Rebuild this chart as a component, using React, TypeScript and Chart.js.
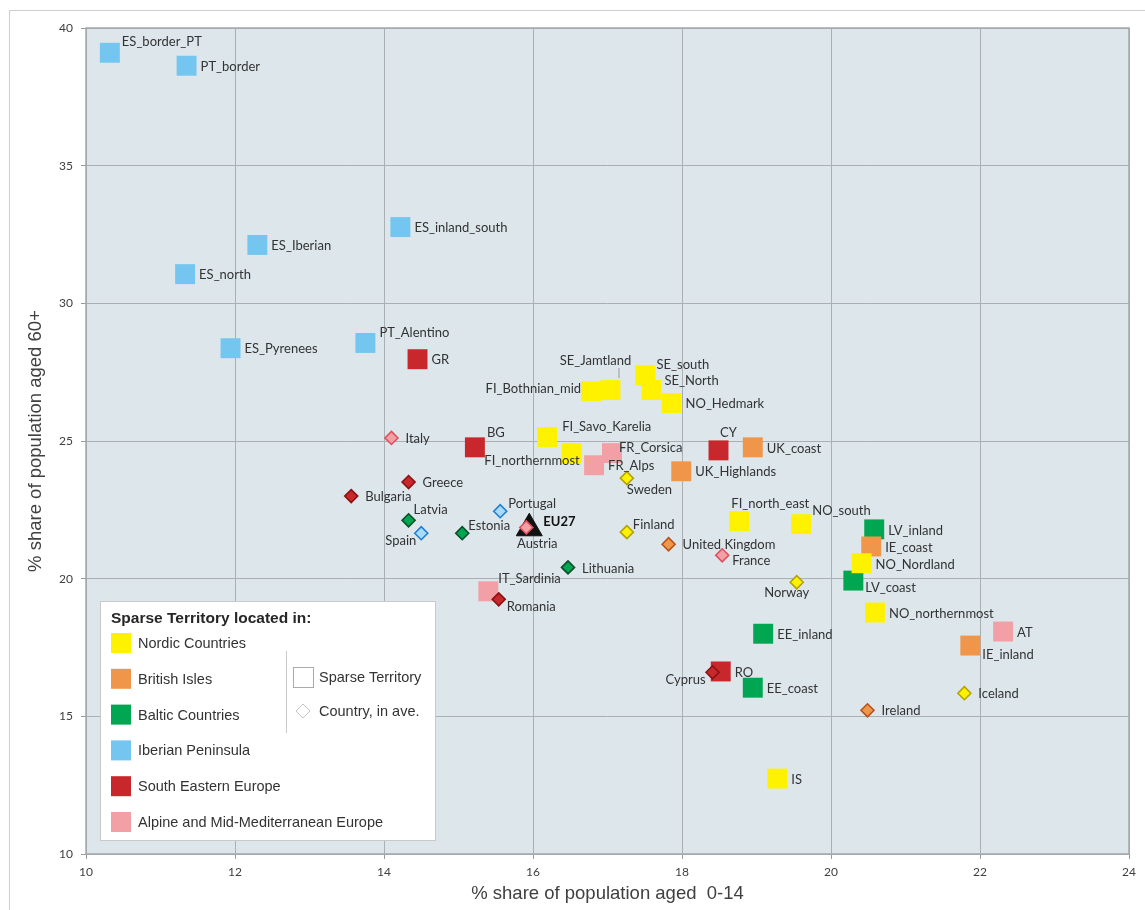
import { useEffect, useRef } from "react";
import { Chart, registerables } from "chart.js";

Chart.register(...registerables);

// ---------- Sparse territories (squares) ----------
const nordicNames = ["FI_Bothnian_mid", "SE_Jamtland", "SE_south", "SE_North", "NO_Hedmark", "FI_Savo_Karelia", "FI_northernmost", "FI_north_east", "NO_south", "NO_Nordland", "NO_northernmost", "IS"];
const nordicX = [16.78, 17.04, 17.51, 17.59, 17.86, 16.19, 16.52, 18.77, 19.6, 20.41, 20.59, 19.28];
const nordicY = [26.81, 26.85, 27.39, 26.85, 26.38, 25.14, 24.56, 22.09, 21.98, 20.56, 18.77, 12.74];

const britishNames = ["UK_coast", "UK_Highlands", "IE_coast", "IE_inland"];
const britishX = [18.95, 17.99, 20.54, 21.87];
const britishY = [24.77, 23.9, 21.17, 17.57];

const balticNames = ["LV_inland", "LV_coast", "EE_inland", "EE_coast"];
const balticX = [20.58, 20.3, 19.09, 18.95];
const balticY = [21.79, 19.93, 18.0, 16.04];

const iberianNames = ["ES_border_PT", "PT_border", "ES_Iberian", "ES_north", "ES_inland_south", "ES_Pyrenees", "PT_Alentino"];
const iberianX = [10.32, 11.35, 12.3, 11.33, 14.22, 11.94, 13.75];
const iberianY = [39.1, 38.63, 32.12, 31.06, 32.77, 28.37, 28.56];

const seNames = ["GR", "BG", "CY", "RO"];
const seX = [14.45, 15.22, 18.49, 18.52];
const seY = [27.97, 24.77, 24.66, 16.63];

const alpineNames = ["FR_Corsica", "FR_Alps", "IT_Sardinia", "AT"];
const alpineX = [17.06, 16.82, 15.4, 22.31];
const alpineY = [24.56, 24.12, 19.54, 18.08];

// ---------- Countries, in average (diamonds) ----------
const nordicCountries = ["Sweden", "Finland", "Norway", "Iceland"];
const nordicCountryX = [17.26, 17.26, 19.54, 21.79];
const nordicCountryY = [23.65, 21.69, 19.87, 15.84];

const britishCountries = ["United Kingdom", "Ireland"];
const britishCountryX = [17.82, 20.49];
const britishCountryY = [21.25, 15.22];

const balticCountries = ["Latvia", "Estonia", "Lithuania"];
const balticCountryX = [14.33, 15.05, 16.47];
const balticCountryY = [22.12, 21.65, 20.41];

const iberianCountries = ["Spain", "Portugal"];
const iberianCountryX = [14.5, 15.56];
const iberianCountryY = [21.65, 22.45];

const seCountries = ["Greece", "Bulgaria", "Romania", "Cyprus"];
const seCountryX = [14.33, 13.56, 15.54, 18.41];
const seCountryY = [23.51, 23.0, 19.25, 16.6];

const alpineCountries = ["Italy", "Austria", "France"];
const alpineCountryX = [14.1, 15.91, 18.54];
const alpineCountryY = [25.11, 21.86, 20.85];

const eu27Names = ["EU27"];
const eu27X = [15.95];
const eu27Y = [21.83];

// ---------- Axes ----------
const xTicks = [10, 12, 14, 16, 18, 20, 22, 24];
const yTicks = [10, 15, 20, 25, 30, 35, 40];
const xTitle = "% share of population aged  0-14";
const yTitle = "% share of population aged 60+";
const legendTitle = "Sparse Territory located in:";

// ---------- Styles ----------
const GROUPS = [
  { label: "Nordic Countries", fill: "#fff200", dark: "#b3a200", cfill: "#fff200", names: nordicNames, x: nordicX, y: nordicY, cn: nordicCountries, cx: nordicCountryX, cy: nordicCountryY },
  { label: "British Isles", fill: "#f0964a", dark: "#b8521c", cfill: "#f0964a", names: britishNames, x: britishX, y: britishY, cn: britishCountries, cx: britishCountryX, cy: britishCountryY },
  { label: "Baltic Countries", fill: "#00a651", dark: "#0b4d26", cfill: "#00a651", names: balticNames, x: balticX, y: balticY, cn: balticCountries, cx: balticCountryX, cy: balticCountryY },
  { label: "Iberian Peninsula", fill: "#74c6f0", dark: "#1f7fd0", cfill: "#a9daf6", names: iberianNames, x: iberianX, y: iberianY, cn: iberianCountries, cx: iberianCountryX, cy: iberianCountryY },
  { label: "South Eastern Europe", fill: "#c8282b", dark: "#8a1212", cfill: "#c8282b", names: seNames, x: seX, y: seY, cn: seCountries, cx: seCountryX, cy: seCountryY },
  { label: "Alpine and Mid-Mediterranean Europe", fill: "#f2a0a6", dark: "#e0505e", cfill: "#f2a0a6", names: alpineNames, x: alpineX, y: alpineY, cn: alpineCountries, cx: alpineCountryX, cy: alpineCountryY },
];

// label placement: [dx, dy, align] relative to marker centre
const LABEL_POS: Record<string, [number, number, CanvasTextAlign]> = {
  ES_border_PT: [12, -11, "left"],
  PT_Alentino: [14, -10, "left"],
  BG: [12, -15, "left"],
  CY: [10, -18, "center"],
  FI_Bothnian_mid: [-10, -2, "right"],
  SE_Jamtland: [-15, -29, "center"],
  SE_south: [11, -10, "left"],
  SE_North: [13, -9, "left"],
  FI_Savo_Karelia: [15, -10, "left"],
  FI_northernmost: [8, 8, "right"],
  FR_Corsica: [7, -5, "left"],
  FI_north_east: [-8, -17, "left"],
  NO_south: [11, -13, "left"],
  NO_Nordland: [14, 2, "left"],
  LV_coast: [12, 7, "left"],
  IE_inland: [12, 9, "left"],
  IT_Sardinia: [10, -13, "left"],
  Latvia: [5, -10, "left"],
  Spain: [-5, 8, "right"],
  Estonia: [6, -7, "left"],
  Portugal: [8, -7, "left"],
  Austria: [11, 16, "center"],
  EU27: [14, -6, "left"],
  Romania: [8, 7, "left"],
  Sweden: [0, 12, "left"],
  Finland: [6, -7, "left"],
  France: [10, 6, "left"],
  Norway: [-10, 11, "center"],
  Cyprus: [-7, 8, "right"],
};

const FONT_UI = '"Liberation Sans", Arial, sans-serif';
const FONT_LBL = 'Lato, "Open Sans", sans-serif';

const pts = (xs: number[], ys: number[]) => xs.map((v, i) => ({ x: v, y: ys[i] }));

const bgPlugin = {
  id: "bgFrame",
  beforeDraw(chart: any) {
    const { ctx, chartArea: ca } = chart;
    ctx.save();
    ctx.fillStyle = "#ffffff";
    ctx.fillRect(0, 0, chart.width, chart.height);
    ctx.strokeStyle = "#cfcfcf";
    ctx.lineWidth = 1;
    ctx.strokeRect(9.5, 10.5, chart.width + 20, chart.height + 20);
    ctx.fillStyle = "#dce6eb";
    ctx.fillRect(ca.left, ca.top, ca.right - ca.left, ca.bottom - ca.top);
    ctx.restore();
  },
  beforeDatasetsDraw(chart: any) {
    const { ctx, chartArea: ca } = chart;
    ctx.save();
    ctx.strokeStyle = "#a3a8ab";
    ctx.lineWidth = 1.5;
    ctx.strokeRect(ca.left, ca.top, ca.right - ca.left, ca.bottom - ca.top);
    // axis titles
    ctx.fillStyle = "#404040";
    ctx.font = `18.5px ${FONT_UI}`;
    ctx.textAlign = "center";
    ctx.textBaseline = "middle";
    ctx.fillText(xTitle, (ca.left + ca.right) / 2, 894);
    ctx.translate(36, (ca.top + ca.bottom) / 2);
    ctx.rotate(-Math.PI / 2);
    ctx.fillText(yTitle, 0, 0);
    ctx.restore();
  },
};

const labelPlugin = {
  id: "pointLabels",
  afterDatasetsDraw(chart: any) {
    const ctx = chart.ctx;
    ctx.save();
    ctx.textBaseline = "middle";
    chart.data.datasets.forEach((ds: any, di: number) => {
      const meta = chart.getDatasetMeta(di);
      meta.data.forEach((el: any, i: number) => {
        const name = ds.names[i];
        const pos = LABEL_POS[name] ?? [14, 1, "left"];
        ctx.font = name === "EU27" ? `bold 13px ${FONT_LBL}` : `13px ${FONT_LBL}`;
        ctx.fillStyle = name === "EU27" ? "#111" : "#333";
        ctx.textAlign = pos[2];
        ctx.fillText(name, el.x + pos[0], el.y + pos[1]);
        if (name === "SE_Jamtland") {
          ctx.strokeStyle = "#9a9a9a";
          ctx.lineWidth = 1;
          ctx.beginPath();
          ctx.moveTo(el.x + 8.5, el.y - 22);
          ctx.lineTo(el.x + 8.5, el.y - 12);
          ctx.stroke();
        }
      });
    });
    ctx.restore();
  },
};

const legendPlugin = {
  id: "customLegend",
  afterDraw(chart: any) {
    const { ctx, chartArea: ca } = chart;
    const L = ca.left + 14;
    const T = ca.bottom - 253;
    const W = 335;
    const H = 239;
    ctx.save();
    ctx.fillStyle = "#ffffff";
    ctx.fillRect(L, T, W, H);
    ctx.strokeStyle = "#c9c9c9";
    ctx.lineWidth = 1;
    ctx.strokeRect(L + 0.5, T + 0.5, W, H);
    ctx.textBaseline = "middle";
    ctx.textAlign = "left";
    ctx.fillStyle = "#262626";
    ctx.font = `bold 15.5px ${FONT_UI}`;
    ctx.fillText(legendTitle, L + 11, T + 18);
    ctx.font = `14.5px ${FONT_UI}`;
    GROUPS.forEach((g, i) => {
      const cy = T + 42 + i * 35.8;
      ctx.fillStyle = g.fill;
      ctx.fillRect(L + 11, cy - 10, 20, 20);
      ctx.fillStyle = "#333";
      ctx.fillText(g.label, L + 38, cy + 1);
    });
    // separator
    ctx.strokeStyle = "#c9c9c9";
    ctx.beginPath();
    ctx.moveTo(L + 186.5, T + 50);
    ctx.lineTo(L + 186.5, T + 132);
    ctx.stroke();
    // symbols
    ctx.strokeStyle = "#aaaaaa";
    ctx.strokeRect(L + 193.5, T + 66.5, 20, 20);
    ctx.strokeStyle = "#c4c4c4";
    const dx = L + 203, dy = T + 110;
    ctx.beginPath();
    ctx.moveTo(dx, dy - 7);
    ctx.lineTo(dx + 7, dy);
    ctx.lineTo(dx, dy + 7);
    ctx.lineTo(dx - 7, dy);
    ctx.closePath();
    ctx.stroke();
    ctx.fillStyle = "#333";
    ctx.fillText("Sparse Territory", L + 219, T + 77);
    ctx.fillText("Country, in ave.", L + 219, T + 111);
    ctx.restore();
  },
};

function buildDatasets() {
  const ds: any[] = [];
  GROUPS.forEach((g) => {
    ds.push({
      label: g.label + " countries",
      names: g.cn,
      data: pts(g.cx, g.cy),
      pointStyle: "rectRot",
      pointRadius: 6.5,
      backgroundColor: g.cfill,
      borderColor: g.dark,
      borderWidth: 1.6,
      order: 0,
    });
  });
  ds.push({
    label: "EU27",
    names: eu27Names,
    data: pts(eu27X, eu27Y),
    pointStyle: "triangle",
    pointRadius: 15,
    backgroundColor: "#111111",
    borderColor: "#111111",
    borderWidth: 1,
    order: 1,
  });
  const sqOrder = [4, 5, 7, 2, 3, 6];
  GROUPS.forEach((g, i) => {
    ds.push({
      label: g.label,
      names: g.names,
      data: pts(g.x, g.y),
      pointStyle: "rect",
      pointRadius: 14.1,
      backgroundColor: g.fill,
      borderColor: g.fill,
      borderWidth: 0,
      order: sqOrder[i],
    });
  });
  return ds;
}

export default function App() {
  const ref = useRef<HTMLCanvasElement>(null);
  useEffect(() => {
    if (!ref.current) return;
    const chart = new Chart(ref.current, {
      type: "scatter",
      data: { datasets: buildDatasets() },
      options: {
        animation: false,
        responsive: false,
        devicePixelRatio: 1,
        events: [],
        layout: { padding: { top: 28, right: 14, left: 0, bottom: 0 } },
        plugins: { legend: { display: false }, tooltip: { enabled: false } },
        scales: {
          x: {
            type: "linear",
            min: xTicks[0],
            max: xTicks[xTicks.length - 1],
            afterBuildTicks: (s: any) => { s.ticks = xTicks.map((v) => ({ value: v })); },
            afterFit: (s: any) => { s.height = 56; },
            border: { display: false },
            grid: { color: "#a9afb2", lineWidth: 1, tickLength: 5, tickColor: "#9a9a9a" },
            ticks: { color: "#404040", font: { family: FONT_LBL, size: 12 }, padding: 6, maxRotation: 0 },
          },
          y: {
            type: "linear",
            min: yTicks[0],
            max: yTicks[yTicks.length - 1],
            afterBuildTicks: (s: any) => { s.ticks = yTicks.map((v) => ({ value: v })); },
            afterFit: (s: any) => { s.width = 86; },
            border: { display: false },
            grid: { color: "#a9afb2", lineWidth: 1, tickLength: 5, tickColor: "#9a9a9a" },
            ticks: { color: "#404040", font: { family: FONT_LBL, size: 12 }, padding: 8 },
          },
        },
      },
      plugins: [bgPlugin, labelPlugin, legendPlugin],
    } as any);
    return () => chart.destroy();
  }, []);
  return (
    <div style={{ position: "fixed", left: 0, top: 0, width: 1145, height: 910, background: "#fff" }}>
      <canvas ref={ref} width={1145} height={910} style={{ display: "block", width: 1145, height: 910 }} />
    </div>
  );
}
